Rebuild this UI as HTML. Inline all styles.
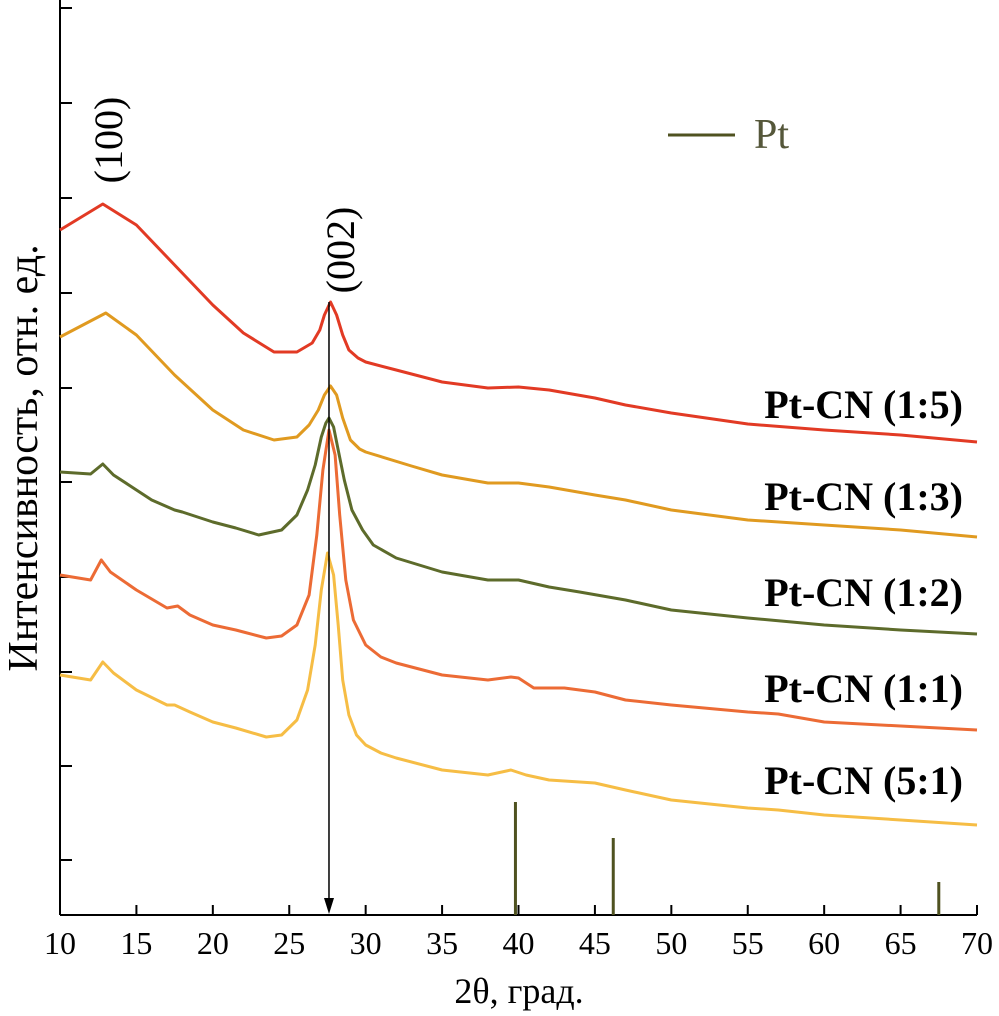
<!DOCTYPE html>
<html><head><meta charset="utf-8"><style>
html,body{margin:0;padding:0;background:#fff;}
svg{display:block;font-family:"Liberation Serif",serif;}
</style></head><body>
<svg id="chart" width="999" height="1016" viewBox="0 0 999 1016">
<g id="axes"></g>
<g id="series"></g>
<g id="labels"></g>
</svg>
<script>
const xTicks=[10,15,20,25,30,35,40,45,50,55,60,65,70];
const yTickPx=[8,103,198,293,388,482,577,672,766,860];
const seriesNames=["Pt-CN (1:5)","Pt-CN (1:3)","Pt-CN (1:2)","Pt-CN (1:1)","Pt-CN (5:1)"];
const seriesColors=["#e23a24","#e09a20","#5d6b2b","#ec6b35","#f6bd45"];
const s15X=[10,12.8,15,17.5,20,22,24,25.5,26.5,27,27.3,27.7,28.1,28.5,28.9,29.5,30,32,35,38,40,42,45,47,50,55,60,65,70];
const s15Y=[685,711,690,650,610,582,563,563,572,585,600,613,600,580,565,557,553,545,533,527,528,525,517,510,502,491,485,480,473];
const s13X=[10,13,15,17.5,20,22,24,25.5,26.3,26.9,27.3,27.7,28.1,28.5,29,29.6,30,33,35,38,40,42,45,47,50,55,60,65,70];
const s13Y=[578,602,580,540,505,485,475,478,490,505,520,529,520,497,475,466,463,449,440,432,432,428,420,415,405,395,390,385,378];
const s12X=[10,12,12.8,13.5,14.5,16,17.5,18,20,21.5,23,24.5,25.5,26.2,26.7,27.1,27.4,27.6,27.9,28.2,28.6,29.1,29.8,30.5,32,35,38,40,42,44,47,50,55,60,65,70];
const s12Y=[443,441,451,440,430,415,405,403,393,387,380,385,400,425,450,478,492,497,488,465,435,405,385,370,357,343,335,335,328,323,315,305,297,290,285,281];
const s11X=[10,12,12.7,13.3,15,17,17.7,18.5,20,21.5,22,23.5,24.5,25.5,26.3,26.8,27.2,27.6,28,28.3,28.7,29.2,30,31,32,35,38,39.5,40,41,43,45,47,50,55,57,60,65,70];
const s11Y=[340,335,355,343,325,307,309,300,290,285,283,277,279,290,320,380,445,485,460,400,335,295,270,258,252,240,235,238,237,227,227,223,215,210,203,201,193,189,185];
const s51X=[10,12,12.8,13.5,15,17,17.5,18.5,20,21.5,23.5,24.5,25.5,26.2,26.7,27.1,27.5,27.9,28.2,28.5,28.9,29.4,30,31,32,35,38,39.5,40.5,42,45,47,50,55,57,60,65,70];
const s51Y=[240,235,253,242,225,210,210,203,193,187,178,180,195,225,270,325,362,340,290,235,200,180,170,162,157,145,140,145,140,135,132,125,115,107,105,100,95,90];
const seriesX=[s15X,s13X,s12X,s11X,s51X];
const seriesY=[s15Y,s13Y,s12Y,s11Y,s51Y];
const labelAnchorY=[404,496,592,688,780];
const ptPos=[39.8,46.2,67.5];
const ptHeight=[113,77,33];
const arrowPos=27.6;

const NS="http://www.w3.org/2000/svg";
const X0=60,X1=977,Y0=915;
const sx=v=>X0+(v-10)*(X1-X0)/60;
const sy=v=>Y0-v;
function mk(tag,attrs,parent,text){const e=document.createElementNS(NS,tag);for(const k in attrs)e.setAttribute(k,attrs[k]);if(text!==undefined)e.textContent=text;parent.appendChild(e);return e;}
const axes=document.getElementById('axes'),ser=document.getElementById('series'),lab=document.getElementById('labels');

let e=mk('line',{x1:X0,y1:0,x2:X0,y2:Y0,stroke:'#000','stroke-width':2},axes);


e=mk('line',{x1:X0,y1:Y0,x2:X1,y2:Y0,stroke:'#000','stroke-width':2},axes);


yTickPx.forEach(p=>{const t=mk('line',{x1:X0,y1:p,x2:X0+12,y2:p,stroke:'#000','stroke-width':2},axes);

});
xTicks.forEach(v=>{const t=mk('line',{x1:sx(v),y1:Y0,x2:sx(v),y2:Y0-10,stroke:'#000','stroke-width':2},axes);


const l=mk('text',{x:sx(v),y:954,'font-size':32,'text-anchor':'middle'},axes,String(v));

});
e=mk('text',{x:519,y:1003,'font-size':36,'text-anchor':'middle'},axes,'2θ, град.');


e=mk('text',{x:0,y:0,'font-size':42,'text-anchor':'middle',transform:'translate(37,458) rotate(-90)'},axes,'Интенсивность, отн. ед.');



seriesX.forEach((xs,i)=>{const d=xs.map((v,j)=>(j?'L':'M')+sx(v).toFixed(1)+','+sy(seriesY[i][j]).toFixed(1)).join('');
const p=mk('path',{d:d,fill:'none',stroke:seriesColors[i],'stroke-width':3,'stroke-linejoin':'round'},ser);


const t=mk('text',{x:963,y:labelAnchorY[i]+14,'font-size':40,'font-weight':'bold','text-anchor':'end'},lab,seriesNames[i]);

});

ptPos.forEach((v,i)=>{const b=mk('line',{x1:sx(v),y1:Y0,x2:sx(v),y2:Y0-ptHeight[i],stroke:'#4f5220','stroke-width':3},ser);

});

e=mk('line',{x1:sx(arrowPos),y1:302,x2:sx(arrowPos),y2:900,stroke:'#000','stroke-width':1.5},lab);


e=mk('path',{d:`M${sx(arrowPos)-5},898L${sx(arrowPos)+5},898L${sx(arrowPos)},914Z`,fill:'#000'},lab);


e=mk('text',{x:0,y:0,'font-size':40,'text-anchor':'middle',transform:'translate(122,140) rotate(-90)'},lab,'(100)');


e=mk('text',{x:0,y:0,'font-size':40,'text-anchor':'middle',transform:'translate(354,250) rotate(-90)'},lab,'(002)');


e=mk('line',{x1:668,y1:135,x2:735,y2:135,stroke:'#4f5220','stroke-width':3},lab);


e=mk('text',{x:754,y:148,'font-size':42,fill:'#55573a'},lab,'Pt');


</script>
</body></html>
